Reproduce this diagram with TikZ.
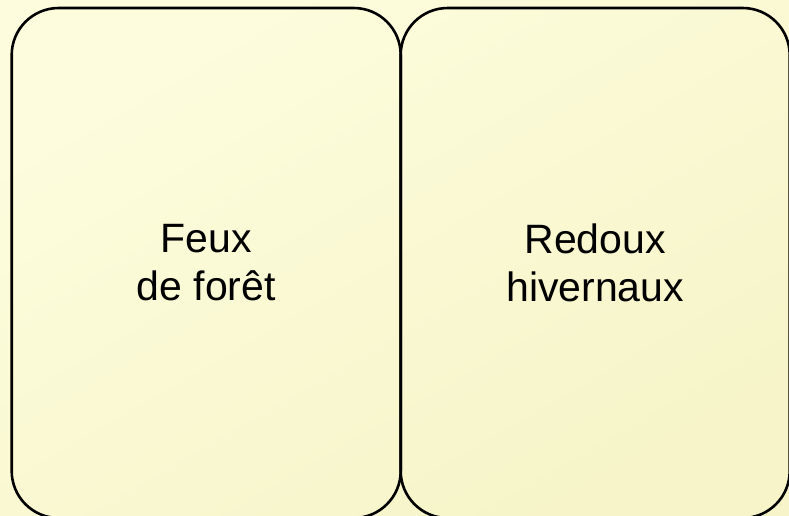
\documentclass[tikz,border=0pt]{standalone}
\usepackage{fontspec}
\setmainfont{Liberation Sans}
\definecolor{bgA}{RGB}{253,253,222}
\definecolor{bgB}{RGB}{246,244,200}
\tikzset{
  card/.style={draw=black, line width=2.6pt, rounded corners=47pt,
    minimum width=389pt, minimum height=510pt, align=center,
    font=\fontsize{41}{48}\selectfont, inner sep=0pt}
}
\begin{document}
\begin{tikzpicture}[x=1pt,y=-1pt]
\useasboundingbox (0,0) rectangle (789,515);
\shade[top color=bgA, bottom color=bgB, shading angle=30] (0,0) rectangle (789,515);
\node[card] (feux) at (206.2,263) {Feux\\de forêt};
\node[card] (redoux) at (595.2,263) {Redoux\\hivernaux};
\end{tikzpicture}
\end{document}
